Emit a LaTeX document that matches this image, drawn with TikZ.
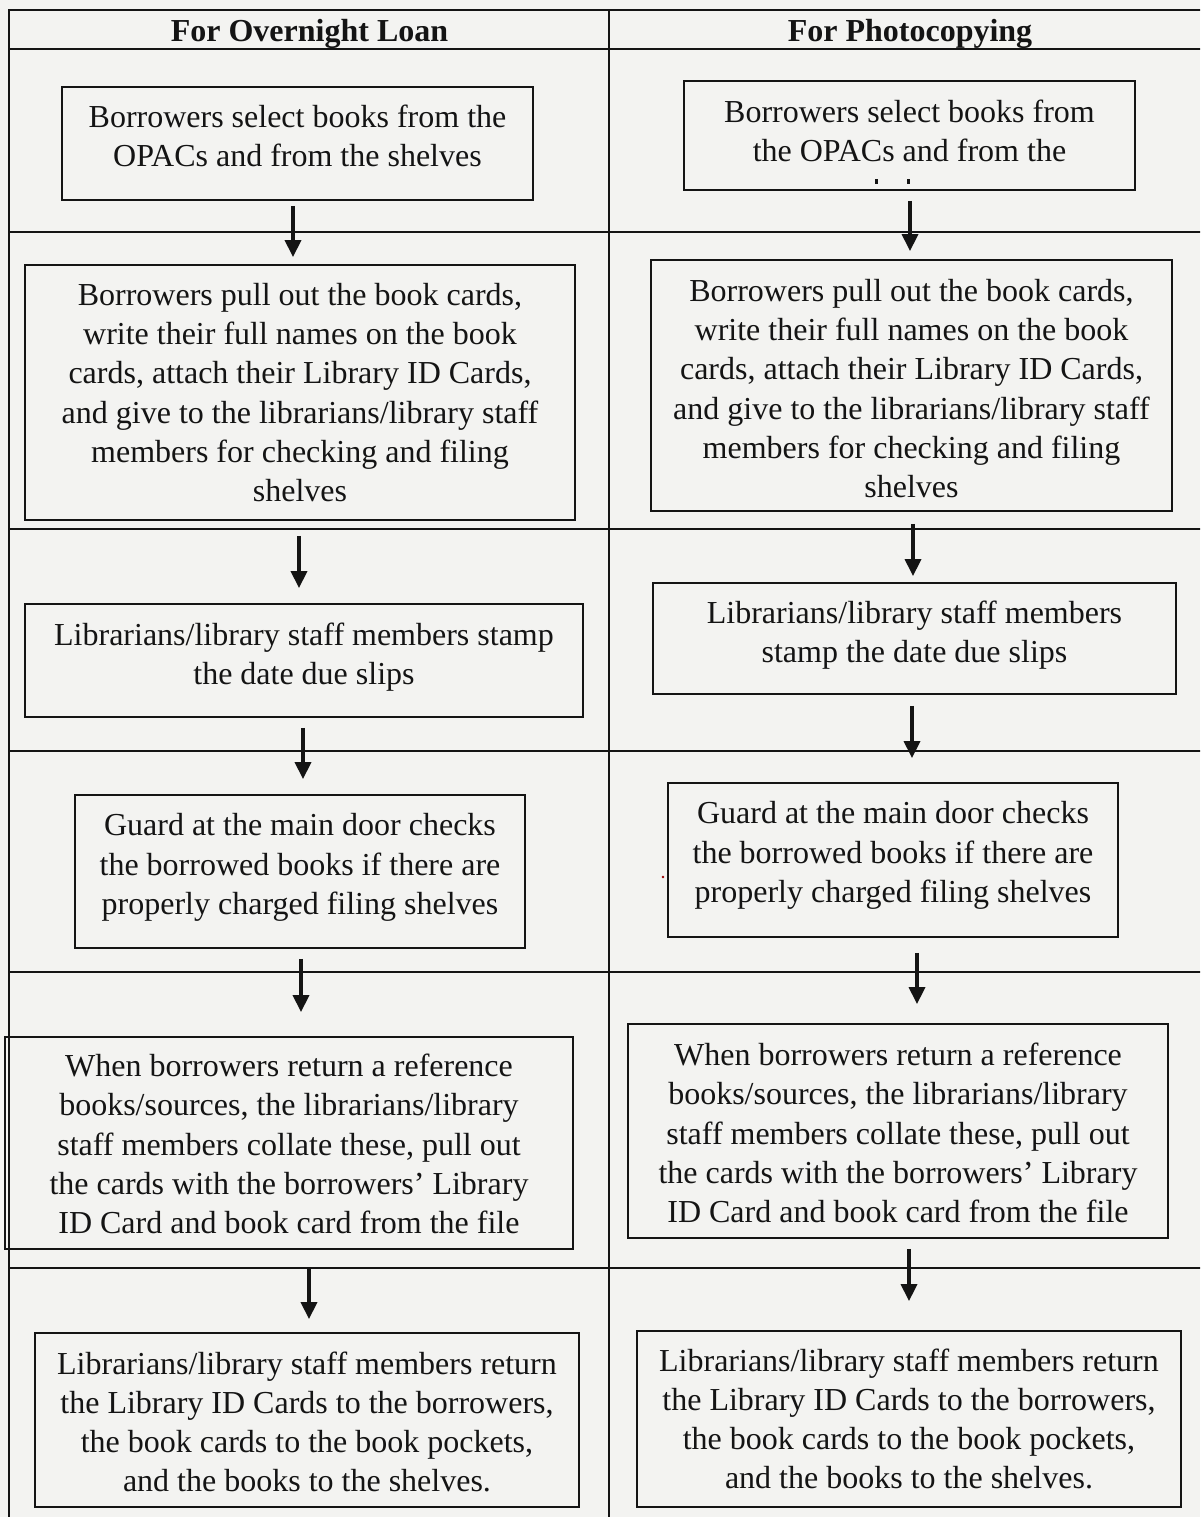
\documentclass[tikz,border=0pt]{standalone}
\usepackage{fontspec}
\setmainfont{Liberation Serif}
\usetikzlibrary{arrows.meta}
\definecolor{paper}{RGB}{243,243,241}
\definecolor{ink}{RGB}{20,20,20}

% vertical connector between two stacked boxes:
% #1 upper box, #2 lower box, #3 horizontal offset, #4 gap at start, #5 gap at tip
\newcommand\flowlink[5]{%
  \draw[flowarrow, shorten <=#4pt, shorten >=#5pt]
    ([xshift=#3pt]#1.south) -- ([xshift=#3pt]#1.south |- #2.north);}

\begin{document}
\begin{tikzpicture}[x=1pt,y=-1pt,
  stepbox/.style={draw=ink, line width=1.8pt, inner sep=0pt},
  steptext/.style={align=center, text=ink, inner sep=0pt,
    font=\fontsize{32}{39.2}\selectfont},
  head/.style={font=\bfseries\fontsize{32}{39.2}\selectfont, text=ink,
    anchor=base, inner sep=0pt},
  rule/.style={draw=ink, line width=1.8pt},
  flowarrow/.style={draw=ink, line width=3.4pt,
    -{Triangle[width=16pt,length=17pt]}}]

% page
\useasboundingbox (0,0) rectangle (1200,1517);
\fill[paper] (0,0) rectangle (1200,1517);
\clip (0,0) rectangle (1200,1517);

% table grid
\draw[rule] (9,1530) -- (9,10) -- (1215,10);
\draw[rule] (609,10) -- (609,1530);
\foreach \yy in {49,232,529,751,972,1268}
  \draw[rule] (9,\yy) -- (1215,\yy);

% column headings
\node[head] (hL) at (309.5,41.5) {For Overnight Loan};
\node[head] (hR) at (910,41.5) {For Photocopying};

% ---- overnight loan column ----
\node[stepbox, minimum width=471, minimum height=113,
  label={[steptext, yshift=8pt]center:{Borrowers select books from the\\OPACs and from the shelves}}]
  (L1) at (297.5,143.5) {};
\node[stepbox, minimum width=550, minimum height=255,
  label={[steptext]center:{Borrowers pull out the book cards,\\write their full names on the book\\cards, attach their Library ID Cards,\\and give to the librarians/library staff\\members for checking and filing\\shelves}}]
  (L2) at (300,392.5) {};
\node[stepbox, minimum width=558, minimum height=113,
  label={[steptext, yshift=3pt]center:{Librarians/library staff members stamp\\the date due slips}}]
  (L3) at (304,660.5) {};
\node[stepbox, minimum width=450, minimum height=153,
  label={[steptext, yshift=4pt]center:{Guard at the main door checks\\the borrowed books if there are\\properly charged filing shelves}}]
  (L4) at (300,871.5) {};
\node[stepbox, minimum width=568, minimum height=212,
  label={[steptext, yshift=-1pt]center:{When borrowers return a reference\\books/sources, the librarians/library\\staff members collate these, pull out\\the cards with the borrowers’ Library\\ID Card and book card from the file}}]
  (L5) at (289,1143) {};
\node[stepbox, minimum width=544, minimum height=174,
  label={[steptext, yshift=-2pt]center:{Librarians/library staff members return\\the Library ID Cards to the borrowers,\\the book cards to the book pockets,\\and the books to the shelves.}}]
  (L6) at (307,1420) {};

% ---- photocopying column ----
\node[stepbox, minimum width=451, minimum height=109,
  label={[steptext, yshift=4.5pt]center:{Borrowers select books from\\the OPACs and from the}}]
  (R1) at (909.5,135.5) {};
\node[stepbox, minimum width=521, minimum height=251,
  label={[steptext, yshift=-3pt]center:{Borrowers pull out the book cards,\\write their full names on the book\\cards, attach their Library ID Cards,\\and give to the librarians/library staff\\members for checking and filing\\shelves}}]
  (R2) at (911.5,385.5) {};
\node[stepbox, minimum width=523, minimum height=111,
  label={[steptext, yshift=3pt]center:{Librarians/library staff members\\stamp the date due slips}}]
  (R3) at (914.5,638.5) {};
\node[stepbox, minimum width=450, minimum height=154,
  label={[steptext, yshift=4.5pt]center:{Guard at the main door checks\\the borrowed books if there are\\properly charged filing shelves}}]
  (R4) at (893,860) {};
\node[stepbox, minimum width=540, minimum height=214,
  label={[steptext, yshift=-2pt]center:{When borrowers return a reference\\books/sources, the librarians/library\\staff members collate these, pull out\\the cards with the borrowers’ Library\\ID Card and book card from the file}}]
  (R5) at (898,1131) {};
\node[stepbox, minimum width=544, minimum height=176,
  label={[steptext]center:{Librarians/library staff members return\\the Library ID Cards to the borrowers,\\the book cards to the book pockets,\\and the books to the shelves.}}]
  (R6) at (909,1419) {};

% cut-off letter tips under the second line of the first photocopying box
\fill[ink] (874.5,179) rectangle (877.5,184);
\fill[ink] (906.5,179) rectangle (909.5,184);
% small speck beside the guard box
\fill[red!60!black] (663,877) circle (1.4);

% connectors
\flowlink{L1}{L2}{-4.5}{5}{7}
\flowlink{L2}{L3}{-1}{15}{15}
\flowlink{L3}{L4}{-1}{10}{15}
\flowlink{L4}{L5}{1}{10}{24}
\flowlink{L5}{L6}{20}{19}{13}
\flowlink{R1}{R2}{0.5}{10}{8}
\flowlink{R2}{R3}{1.5}{12}{6}
\flowlink{R3}{R4}{-2.5}{11}{24}
\flowlink{R4}{R5}{24}{15}{19}
\flowlink{R5}{R6}{11}{10}{29}
\end{tikzpicture}
\end{document}
